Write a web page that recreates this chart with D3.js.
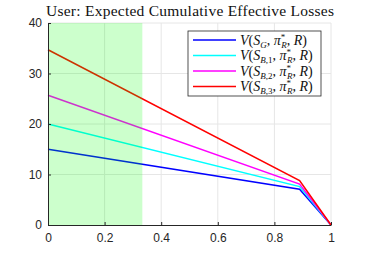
<!DOCTYPE html>
<html>
<head>
<meta charset="utf-8">
<script src="https://cdn.jsdelivr.net/npm/d3@7"></script>
<style>
  body { margin: 0; background: #fff; }
  .tick text { font-family: "Liberation Sans", Arial, sans-serif; font-size: 12px; fill: #262626; }
</style>
</head>
<body>
<svg width="366" height="253"></svg>
<script>
// data
var xVals = [0, 0.889, 1];
var blueV = [15, 7.1, 0];
var cyanV = [20, 7.6, 0];
var magentaV = [25.7, 8.1, 0];
var redV = [34.7, 8.8, 0];
var shadeEnd = 1 / 3;
var xTicks = [0, 0.2, 0.4, 0.6, 0.8, 1];
var yTicks = [0, 10, 20, 30, 40];
var subs = ["G", "B,1", "B,2", "B,3"];

var svg = d3.select("svg");
var pLeft = 48, pRight = 331, pTop = 23, pBottom = 225;

var x = d3.scaleLinear().domain([0, 1]).range([pLeft, pRight]);
var y = d3.scaleLinear().domain([0, 40]).range([pBottom, pTop]);

// grid
var grid = svg.append("g");
grid.selectAll(".gx").data(xTicks.slice(1)).enter().append("line")
  .attr("x1", function(d){ return x(d); }).attr("x2", function(d){ return x(d); })
  .attr("y1", pTop).attr("y2", pBottom)
  .attr("stroke", "#e6e6e6").attr("stroke-width", 1);
grid.selectAll(".gy").data(yTicks.slice(1)).enter().append("line")
  .attr("x1", pLeft).attr("x2", pRight)
  .attr("y1", function(d){ return y(d); }).attr("y2", function(d){ return y(d); })
  .attr("stroke", "#e6e6e6").attr("stroke-width", 1);

// series
var series = [
  { v: blueV, c: "#0000ff" },
  { v: cyanV, c: "#00ffff" },
  { v: magentaV, c: "#ff00ff" },
  { v: redV, c: "#ff0000" }
];
var line = d3.line()
  .x(function(d){ return x(d[0]); })
  .y(function(d){ return y(d[1]); });

series.forEach(function(s){
  svg.append("path")
    .datum(xVals.map(function(xv, i){ return [xv, s.v[i]]; }))
    .attr("d", line)
    .attr("fill", "none")
    .attr("stroke", s.c)
    .attr("stroke-width", 1.5);
});

// green shade on top
svg.append("rect")
  .attr("x", x(0)).attr("y", y(40))
  .attr("width", x(shadeEnd) - x(0))
  .attr("height", y(0) - y(40))
  .attr("fill", "#00ff00").attr("fill-opacity", 0.2);

// axes
var xAxis = svg.append("g").attr("transform", "translate(0," + pBottom + ")")
  .call(d3.axisBottom(x).tickValues(xTicks).tickFormat(d3.format("")).tickSizeInner(-3).tickSizeOuter(0).tickPadding(8));
var yAxis = svg.append("g").attr("transform", "translate(" + pLeft + ",0)")
  .call(d3.axisLeft(y).tickValues(yTicks).tickSizeInner(-3).tickSizeOuter(0).tickPadding(6));
[xAxis, yAxis].forEach(function(a){
  a.select(".domain").attr("stroke", "#262626");
  a.selectAll(".tick line").attr("stroke", "#262626");
});

// title
svg.append("text")
  .attr("x", 190).attr("y", 16)
  .attr("text-anchor", "middle")
  .attr("font-family", "Liberation Serif, serif")
  .attr("font-size", 15.5)
  .attr("textLength", 288)
  .attr("lengthAdjust", "spacing")
  .attr("fill", "#111")
  .text("User: Expected Cumulative Effective Losses");

// legend
var lg = svg.append("g");
lg.append("rect")
  .attr("x", 188).attr("y", 31).attr("width", 133).attr("height", 65)
  .attr("fill", "#fff").attr("stroke", "#262626").attr("stroke-width", 0.8);

series.forEach(function(s, i){
  var yy = 40 + i * 15.5;
  lg.append("line")
    .attr("x1", 193).attr("x2", 236).attr("y1", yy).attr("y2", yy)
    .attr("stroke", s.c).attr("stroke-width", 1.5);
  var t = lg.append("text")
    .attr("x", 240).attr("y", yy + 4.5)
    .attr("font-family", "Liberation Serif, serif")
    .attr("font-size", 14)
    .attr("fill", "#111");
  t.append("tspan").attr("font-style", "italic").text("V");
  t.append("tspan").text("(");
  t.append("tspan").attr("font-style", "italic").text("S");
  var sub = t.append("tspan").attr("font-size", 9).attr("dy", 3);
  if (subs[i] == "G") {
    sub.attr("font-style", "italic").text("G");
  } else {
    sub.append("tspan").attr("font-style", "italic").text("B");
    sub.append("tspan").text(subs[i].slice(1));
  }
  t.append("tspan").attr("dy", -3).text(", ");
  t.append("tspan").attr("font-style", "italic").text("\u03c0");
  t.append("tspan").attr("font-size", 9).attr("dy", -5).text("*");
  t.append("tspan").attr("font-size", 9).attr("font-style", "italic").attr("dx", -4).attr("dy", 8).text("R");
  t.append("tspan").attr("dy", -3).text(", ");
  t.append("tspan").attr("font-style", "italic").text("R");
  t.append("tspan").text(")");
});
</script>
</body>
</html>
